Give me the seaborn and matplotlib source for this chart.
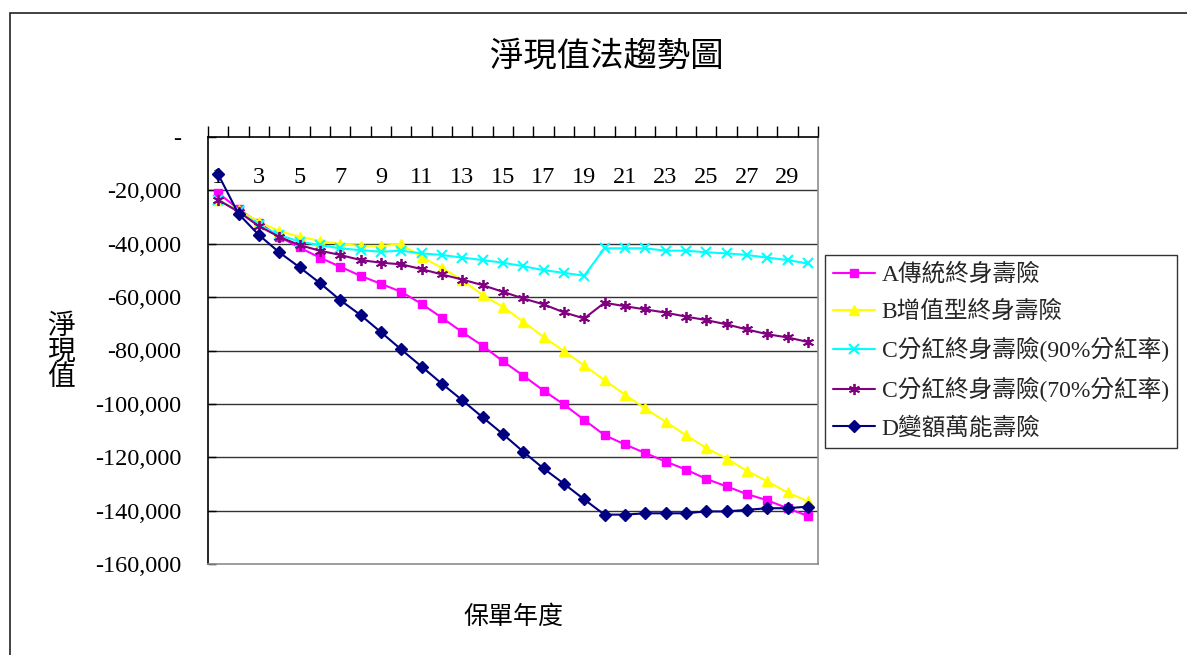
import numpy as np
import pandas as pd
import matplotlib
matplotlib.use("Agg")
import matplotlib.pyplot as plt
import matplotlib.ticker as mticker
from matplotlib.patches import Rectangle
import seaborn as sns

# Policy years and net present value of each plan
years = list(range(1, 31))

plan_a = [-21000, -27000, -32100, -37400, -41400, -45200, -48600, -52000, -55000, -58000,
          -62500, -67700, -73100, -78200, -84000, -89400, -95000, -100200, -106000, -111700,
          -115200, -118400, -121600, -124600, -128100, -130900, -133800, -136100, -139100, -142000]
plan_b = [-23600, -27400, -31800, -35200, -37400, -38900, -40100, -40800, -40800, -40200,
          -44900, -49000, -53600, -59200, -63600, -69200, -74900, -80200, -85600, -91100,
          -96500, -101700, -106700, -111700, -116500, -120500, -125100, -129000, -133200, -136500]
plan_c90 = [-23600, -27800, -33000, -36700, -39200, -40500, -41700, -42400, -43000, -42600,
            -43600, -44200, -45200, -46100, -47100, -48400, -49900, -50900, -52000, -41700,
            -41700, -41700, -42600, -42600, -43200, -43600, -44200, -45200, -46100, -47400]
plan_c70 = [-23600, -28000, -33400, -37400, -40500, -42600, -44200, -46100, -47100, -47700,
            -49500, -51500, -53400, -55500, -58000, -60500, -62700, -65700, -68000, -62100,
            -63400, -64600, -65800, -67300, -68600, -70200, -72100, -73900, -75100, -76800]
plan_d = [-14000, -28800, -36700, -43200, -48800, -54700, -61100, -66700, -73100, -79600,
          -86000, -92400, -98600, -105000, -111300, -117900, -124200, -129900, -135800, -141500,
          -141500, -141000, -141000, -141000, -140300, -140300, -139700, -139100, -139100, -138500]

series_names = ["A傳統終身壽險", "B增值型終身壽險", "C分紅終身壽險(90%分紅率)",
                "C分紅終身壽險(70%分紅率)", "D變額萬能壽險"]
series_values = [plan_a, plan_b, plan_c90, plan_c70, plan_d]

y_ticks = list(range(-160000, 1, 20000))
x_tick_years = list(range(1, 31, 2))

sns.set_theme(style="white")
plt.rcParams["font.family"] = ["Liberation Serif", "Noto Sans CJK TC"]

styles = [
    dict(color="#FF00FF", marker="s", markersize=6),
    dict(color="#FFFF00", marker="^", markersize=7.5),
    dict(color="#00FFFF", marker="x", markersize=7, markeredgewidth=1.5),
    dict(color="#800080", marker=(6, 2, 0), markersize=8, markeredgewidth=1.3),
    dict(color="#000080", marker="D", markersize=6.5),
]

fig = plt.figure(figsize=(11.87, 6.55), dpi=100)
ax = fig.add_axes([208 / 1187, 1 - 564 / 655, 610 / 1187, 427 / 655])

for name, vals, st in zip(series_names, series_values, styles):
    df = pd.DataFrame({"年度": years, "淨現值": vals})
    st = dict(st)
    c = st.pop("color")
    st.setdefault("markeredgewidth", 1.0)
    sns.lineplot(data=df, x="年度", y="淨現值", ax=ax, color=c, linewidth=1.5,
                 markeredgecolor=c, markerfacecolor=c, label=name, **st)

ax.set_xlim(0.5, 30.5)
ax.set_ylim(-160000, 0)

# Category axis sits at zero (top of the plot): boundary ticks, labels on odd years
ax.xaxis.set_ticks_position("top")
ax.set_xticks(x_tick_years)
ax.set_xticklabels([str(y) for y in x_tick_years])
ax.set_xticks(np.arange(0.5, 31, 1.0), minor=True)
ax.tick_params(axis="x", which="major", length=0, top=True, bottom=False,
               labeltop=True, labelbottom=False, pad=-37, labelsize=17.5, labelcolor="black")
ax.tick_params(axis="x", which="minor", length=8, width=1, direction="out",
               top=True, bottom=False, color="black")

ax.set_yticks(y_ticks)
ax.yaxis.set_major_formatter(mticker.FuncFormatter(
    lambda v, p: "-" if v == 0 else f"{v:,.0f}"))
ax.tick_params(axis="y", which="major", left=True, direction="in", length=6, width=1,
               color="black", pad=19, labelsize=17.5, labelcolor="black")

ax.yaxis.grid(True, color="#333333", linewidth=1)
ax.xaxis.grid(False)
ax.set_axisbelow(True)
for gl, v in zip(ax.get_ygridlines(), y_ticks):
    if v in (y_ticks[0], y_ticks[-1]):
        gl.set_visible(False)

ax.spines["left"].set_color("black")
ax.spines["top"].set_color("black")
ax.spines["right"].set_color("#8c8c8c")
ax.spines["bottom"].set_color("#8c8c8c")
for s in ax.spines.values():
    s.set_linewidth(1.2)

ax.xaxis.set_label_position("bottom")
ax.set_xlabel("保單年度", fontsize=18, labelpad=30, color="black")
ax.set_ylabel("淨\n現\n值", fontsize=20, rotation=0, ha="center", va="center",
              linespacing=1.0, color="black")
ax.yaxis.set_label_coords(-0.241, 0.494)

leg = ax.legend(loc="upper left", bbox_to_anchor=(825 / 1187, 1 - 255 / 655),
                bbox_transform=fig.transFigure, fontsize=17, frameon=True,
                fancybox=False, shadow=False, borderpad=0.35, handlelength=1.75,
                handletextpad=0.3, labelspacing=0.62, borderaxespad=0)
leg.get_frame().set_edgecolor("black")
leg.get_frame().set_linewidth(1)

fig.text(607 / 1187, 1 - 57 / 655, "淨現值法趨勢圖", ha="center", va="center",
         fontsize=24, color="black")

# Outer chart border
fig.patches.append(Rectangle((10 / 1187, -0.2), 1.2, 1.2 - 13 / 655,
                             transform=fig.transFigure, fill=False,
                             edgecolor="#222222", linewidth=1.2))

fig.savefig("out.png", dpi=100, facecolor="white")
